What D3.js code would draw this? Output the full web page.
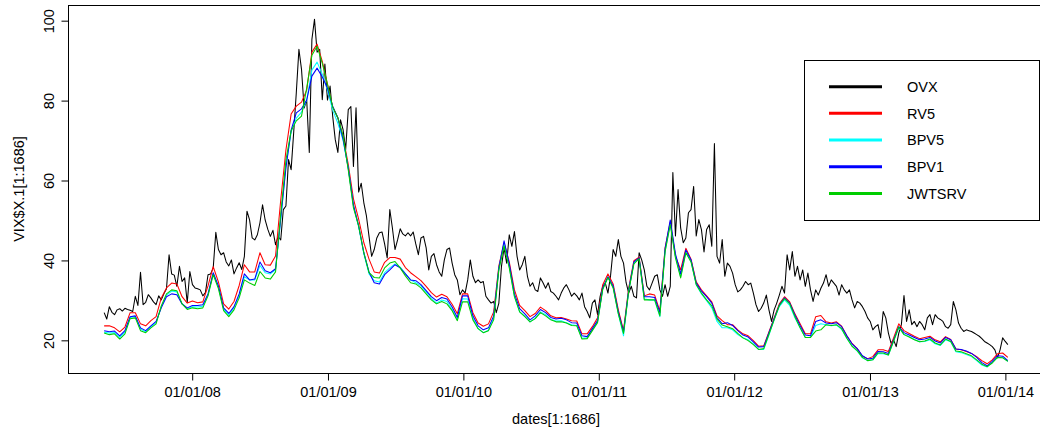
<!DOCTYPE html>
<html>
<head>
<meta charset="utf-8">
<script src="https://cdn.jsdelivr.net/npm/d3@7"></script>
<style>
  body { margin: 0; background: #fff; }
  svg { display: block; }
  text { font-family: "Liberation Sans", Arial, Helvetica, sans-serif; }
</style>
</head>
<body>
<svg id="chart" width="1040" height="432"></svg>
<script>
// Sampling grid: OVX weekly, realized-volatility measures fortnightly
const sampleStart = "2007-05-10";
const ovxStepDays = 7;
const rvStepDays = 14;

// OVX implied volatility index (weekly)
const ovx = [
  26.8, 25.2, 28.3, 26.9, 26.3, 27.5, 27.8, 27.2, 27.9, 27.6,
  27.4, 27.1, 30.9, 28.6, 36.9, 28.8, 29.4, 31.3, 30.5, 29.5,
  28.8, 31.0, 30.0, 31.5, 32.8, 41.3, 36.5, 36.2, 33.4, 38.4,
  34.6, 35.5, 29.3, 37.1, 33.8, 33.0, 32.8, 32.5, 31.0, 31.8,
  36.3, 36.5, 38.0, 46.9, 42.6, 41.3, 41.8, 39.5, 38.5, 40.0,
  36.5, 38.0, 39.3, 37.6, 40.9, 52.2, 50.0, 45.5, 45.0, 46.3,
  49.3, 53.8, 50.0, 47.7, 45.9, 47.4, 43.8, 45.9, 45.0, 52.6,
  53.5, 65.1, 62.6, 72.0, 81.9, 92.7, 87.7, 78.0, 80.0, 66.9,
  95.2, 100.2, 92.0, 92.7, 80.1, 89.0, 80.0, 83.5, 76.0, 70.1,
  66.9, 75.1, 72.6, 67.6, 77.6, 78.4, 63.4, 78.1, 57.0, 59.2,
  54.3, 51.0, 45.9, 40.9, 42.6, 45.5, 46.8, 47.0, 44.0, 40.5,
  52.6, 48.0, 42.6, 45.0, 47.8, 46.5, 46.0, 46.8, 46.0, 47.0,
  44.0, 41.3, 45.5, 45.9, 43.0, 37.5, 40.9, 41.6, 38.8, 37.0,
  35.9, 40.0, 42.6, 43.0, 39.2, 36.3, 35.0, 31.3, 32.5, 31.7,
  35.0, 40.0, 35.9, 34.3, 35.0, 34.3, 34.6, 30.9, 30.0, 29.2,
  29.6, 26.8, 29.2, 38.4, 43.0, 39.2, 46.3, 43.4, 47.1, 40.9,
  37.5, 38.8, 40.9, 35.9, 33.4, 34.3, 32.5, 32.1, 35.5, 34.3,
  32.9, 34.3, 32.1, 31.7, 30.9, 30.0, 31.7, 33.0, 33.8, 32.5,
  30.9, 31.7, 31.0, 30.0, 31.7, 28.3, 27.1, 25.5, 29.2, 30.0,
  26.3, 30.9, 33.4, 34.2, 31.7, 36.0, 42.6, 40.9, 45.1, 40.9,
  39.2, 34.3, 31.7, 33.4, 30.9, 30.5, 41.8, 40.0, 37.5, 33.4,
  32.5, 34.2, 35.9, 36.3, 32.5, 30.9, 33.8, 30.9, 33.4, 61.9,
  46.0, 57.6, 48.0, 44.3, 45.5, 51.8, 52.6, 58.4, 46.0, 50.1,
  47.6, 42.0, 47.6, 48.8, 43.4, 69.1, 40.9, 39.2, 45.1, 35.9,
  39.2, 38.4, 36.7, 33.8, 32.0, 32.5, 33.4, 34.6, 33.8, 34.2,
  31.7, 28.8, 27.1, 27.9, 29.2, 31.2, 27.5, 24.6, 27.5, 29.2,
  31.2, 33.4, 31.7, 41.3, 37.5, 42.1, 35.9, 38.4, 35.0, 37.5,
  33.4, 36.7, 32.5, 29.6, 32.5, 31.2, 32.9, 34.2, 36.3, 33.4,
  35.0, 34.2, 33.4, 31.2, 33.8, 32.5, 31.7, 32.5, 30.0, 28.0,
  29.6, 29.2, 28.3, 27.1, 25.5, 24.6, 22.5, 23.3, 23.8, 20.5,
  27.1, 25.5, 21.7, 19.2, 20.0, 18.3, 21.7, 23.8, 31.1, 24.6,
  27.5, 23.8, 24.6, 23.3, 24.6, 23.8, 22.5, 25.5, 26.3, 23.8,
  26.3, 25.5, 25.1, 24.6, 23.3, 22.9, 23.8, 29.6, 27.5, 24.2,
  22.9, 22.1, 22.5, 22.3, 22.1, 21.7, 21.3, 20.9, 20.3, 19.6,
  19.2, 18.8, 18.3, 17.5, 15.5, 17.5, 20.5, 19.6, 18.8
];

// Realized volatility, 5-minute returns (fortnightly)
const rv5 = [
  23.5, 23.5, 23.0, 22.0, 23.2, 26.8, 26.8, 24.0, 23.5, 24.8,
  25.8, 30.5, 33.0, 34.2, 34.0, 30.8, 29.2, 29.7, 29.3, 29.5,
  33.5, 38.3, 34.5, 29.0, 27.7, 29.6, 33.6, 38.8, 37.0, 37.0,
  41.8, 38.8, 38.7, 41.0, 55.0, 67.5, 76.5, 78.5, 79.5, 82.5,
  92.0, 94.0, 89.7, 84.0, 78.2, 75.5, 70.8, 63.9, 55.3, 50.2,
  44.3, 40.2, 37.0, 36.7, 39.4, 40.6, 40.6, 40.2, 38.1, 36.8,
  35.8, 34.8, 33.4, 31.8, 30.7, 31.4, 30.8, 28.9, 26.5, 31.5,
  31.5, 26.8, 24.2, 23.4, 24.0, 27.0, 38.5, 44.3, 39.5, 32.5,
  28.6, 27.3, 25.8, 26.6, 28.2, 27.3, 26.0, 25.5, 25.6, 25.2,
  24.8, 24.7, 21.5, 21.5, 23.3, 25.5, 33.8, 36.5, 34.0, 27.5,
  22.3, 33.0, 39.8, 40.7, 31.0, 31.5, 31.2, 27.2, 43.0, 49.5,
  41.0, 37.5, 42.9, 40.2, 34.5, 32.5, 31.0, 29.5, 26.0, 24.8,
  23.8, 23.8, 22.5, 21.5, 21.0, 19.8, 18.4, 18.5, 22.0, 25.5,
  29.0, 30.8, 29.5, 26.5, 24.0, 21.5, 21.5, 25.8, 26.1, 24.5,
  24.2, 24.5, 23.4, 21.0, 19.1, 17.8, 15.9, 15.3, 15.8, 17.5,
  17.5, 17.1, 20.5, 24.0, 22.3, 21.6, 20.9, 20.3, 20.6, 20.9,
  20.0, 19.5, 20.8, 20.1, 17.7, 17.5, 17.1, 16.6, 15.8, 14.8,
  14.0, 15.0, 16.5, 16.7, 15.6
];

// Bipower variation, 5-minute returns (fortnightly)
const bpv5 = [
  21.9, 21.7, 21.8, 20.6, 21.9, 25.6, 25.8, 22.7, 22.0, 23.3,
  24.3, 28.3, 31.2, 32.2, 32.0, 29.0, 27.8, 28.3, 28.2, 28.4,
  31.3, 36.6, 33.2, 27.7, 26.2, 28.0, 31.0, 35.8, 35.0, 35.0,
  38.6, 36.8, 36.5, 37.5, 50.0, 63.5, 72.0, 75.5, 77.0, 80.0,
  87.5, 89.5, 86.5, 82.5, 77.5, 74.2, 70.0, 63.0, 53.5, 48.3,
  41.5, 36.5, 34.8, 34.5, 36.8, 38.0, 39.0, 38.2, 36.6, 35.0,
  34.3, 33.5, 32.0, 30.4, 29.2, 30.0, 29.6, 27.6, 25.0, 30.3,
  30.2, 25.5, 22.8, 21.8, 22.4, 25.5, 37.8, 44.0, 38.3, 30.8,
  27.0, 25.9, 24.5, 25.4, 27.0, 26.3, 25.1, 24.7, 24.8, 24.3,
  23.8, 23.6, 20.4, 20.5, 22.5, 24.5, 32.8, 35.7, 33.2, 26.5,
  21.0, 32.3, 39.2, 40.3, 30.2, 30.0, 29.9, 25.8, 42.2, 49.0,
  40.8, 35.8, 42.0, 39.6, 33.8, 31.5, 29.8, 28.0, 24.6, 23.0,
  23.0, 22.5, 21.3, 20.5, 20.0, 19.0, 17.6, 17.6, 21.2, 25.0,
  28.3, 30.0, 28.6, 25.5, 23.0, 20.6, 20.6, 23.6, 24.0, 23.8,
  23.5, 23.7, 22.6, 20.4, 18.5, 17.2, 15.5, 14.8, 15.0, 16.6,
  16.5, 16.2, 19.6, 23.0, 21.4, 20.8, 20.1, 19.5, 19.6, 20.0,
  19.0, 18.6, 20.0, 19.5, 17.0, 16.8, 16.3, 15.8, 14.8, 13.7,
  13.2, 14.3, 15.6, 15.6, 14.6
];

// Bipower variation, 1-minute returns (fortnightly)
const bpv1 = [
  22.3, 22.0, 22.2, 21.0, 22.3, 25.8, 26.0, 23.0, 22.3, 23.5,
  24.6, 28.0, 30.8, 31.5, 31.3, 29.0, 28.0, 28.6, 28.6, 28.8,
  31.5, 36.8, 33.5, 28.0, 26.6, 28.3, 31.5, 36.5, 35.0, 35.2,
  39.5, 37.3, 36.8, 37.8, 50.5, 63.0, 72.5, 76.8, 77.8, 80.0,
  86.0, 88.0, 85.8, 83.0, 78.5, 75.6, 70.2, 63.0, 53.8, 48.5,
  41.8, 37.0, 34.3, 34.0, 36.3, 37.5, 38.8, 38.0, 36.5, 35.0,
  34.8, 33.8, 32.3, 30.8, 29.8, 30.6, 30.2, 28.2, 25.6, 31.0,
  31.0, 26.0, 23.5, 22.5, 23.0, 26.0, 38.0, 44.8, 39.0, 31.5,
  27.8, 26.5, 25.0, 26.0, 27.6, 26.8, 25.6, 25.2, 25.4, 25.0,
  24.3, 24.2, 21.0, 20.8, 22.8, 24.8, 33.0, 35.8, 33.5, 27.0,
  22.0, 32.5, 39.5, 40.5, 30.8, 30.8, 30.6, 26.8, 42.8, 50.0,
  41.5, 36.5, 42.5, 40.0, 34.2, 32.2, 30.8, 29.2, 25.6, 24.0,
  24.3, 23.6, 22.3, 21.2, 20.7, 19.5, 18.2, 18.3, 21.8, 25.3,
  28.7, 30.5, 29.2, 26.2, 23.6, 21.2, 21.0, 24.6, 25.0, 24.2,
  24.0, 24.3, 23.3, 21.0, 19.0, 17.8, 16.0, 15.2, 15.4, 17.1,
  17.0, 16.6, 20.0, 23.3, 21.8, 21.2, 20.6, 20.0, 20.2, 20.6,
  19.7, 19.2, 20.6, 20.0, 17.7, 17.6, 17.2, 16.6, 15.6, 14.3,
  13.5, 14.6, 16.0, 15.9, 14.8
];

// Jump-wavelet two-scale realized volatility (fortnightly)
const jwtsrv = [
  21.7, 21.3, 21.5, 20.2, 21.5, 25.3, 25.5, 22.3, 21.8, 23.0,
  24.0, 28.5, 31.5, 32.5, 32.3, 29.0, 27.6, 28.0, 27.8, 28.0,
  31.0, 36.3, 32.8, 27.3, 25.8, 27.5, 30.5, 35.0, 34.2, 33.6,
  37.1, 35.5, 35.2, 37.0, 51.5, 65.0, 72.3, 74.8, 76.0, 83.0,
  91.2, 93.5, 89.2, 84.0, 78.3, 75.6, 71.1, 62.5, 53.0, 48.5,
  41.8, 36.8, 35.6, 35.5, 38.0, 39.2, 39.6, 38.0, 36.0, 34.3,
  34.0, 33.0, 31.5, 30.0, 29.0, 29.6, 29.0, 27.3, 24.8, 29.5,
  29.5, 25.0, 22.8, 21.8, 22.3, 25.0, 37.5, 43.5, 38.0, 30.8,
  27.0, 25.8, 24.5, 25.3, 26.8, 26.0, 25.0, 24.5, 24.5, 24.2,
  23.6, 23.5, 20.2, 20.3, 22.3, 24.3, 32.6, 35.6, 33.0, 26.5,
  21.6, 32.2, 39.0, 40.3, 30.0, 30.0, 30.0, 26.0, 42.0, 48.8,
  40.5, 35.5, 41.8, 39.5, 33.8, 31.7, 30.0, 28.5, 25.2, 23.7,
  23.3, 22.8, 21.6, 20.5, 19.8, 18.8, 17.6, 17.8, 21.4, 25.0,
  28.6, 30.3, 29.0, 25.8, 23.0, 20.6, 20.6, 22.2, 22.5, 23.8,
  23.6, 23.8, 22.8, 20.4, 18.4, 17.3, 15.6, 14.8, 15.0, 16.7,
  16.7, 16.2, 19.7, 23.2, 21.3, 20.7, 20.0, 19.5, 19.7, 20.2,
  19.2, 18.7, 20.2, 19.6, 17.2, 17.0, 16.5, 16.0, 15.0, 13.9,
  13.3, 14.2, 15.6, 15.5, 14.6
];

const seriesNames = ["OVX", "RV5", "BPV5", "BPV1", "JWTSRV"];
const seriesColors = ["#000000", "#ff0000", "#00ffff", "#0000ff", "#00cd00"];

const xTickDates = ["2008-01-01", "2009-01-01", "2010-01-01", "2011-01-01",
                    "2012-01-01", "2013-01-01", "2014-01-01"];
const xTickLabels = ["01/01/08", "01/01/09", "01/01/10", "01/01/11",
                     "01/01/12", "01/01/13", "01/01/14"];
const yTicks = [20, 40, 60, 80, 100];
const yDomain = [11.7, 103.8];

const xTitle = "dates[1:1686]";
const yTitle = "VIX$X.1[1:1686]";

// ---------------------------------------------------------------------
const parse = d3.utcParse("%Y-%m-%d");
const t0 = parse(sampleStart);

function toPoints(values, step) {
  return values.map((v, i) => ({ date: d3.utcDay.offset(t0, i * step), value: v }));
}

const series = [
  toPoints(ovx, ovxStepDays),
  toPoints(rv5, rvStepDays),
  toPoints(bpv5, rvStepDays),
  toPoints(bpv1, rvStepDays),
  toPoints(jwtsrv, rvStepDays)
];

const plot = { left: 68, top: 5, right: 1044, bottom: 373 };
const fontSize = 14.5;

const svg = d3.select("#chart");

// Date extent padded by 4% on each side
const allDates = series.flat().map(d => d.date);
const [dMin, dMax] = d3.extent(allDates);
const pad = (dMax - dMin) * 0.04;
const x = d3.scaleUtc()
  .domain([new Date(+dMin - pad), new Date(+dMax + pad)])
  .range([plot.left, plot.right]);

const y = d3.scaleLinear().domain(yDomain).range([plot.bottom, plot.top]);

// Clip drawing area
svg.append("defs").append("clipPath").attr("id", "plotclip")
  .append("rect")
  .attr("x", plot.left).attr("y", plot.top)
  .attr("width", plot.right - plot.left).attr("height", plot.bottom - plot.top);

const line = d3.line().x(d => x(d.date)).y(d => y(d.value));

const lines = svg.append("g").attr("clip-path", "url(#plotclip)");
series.forEach((s, k) => {
  lines.append("path")
    .datum(s)
    .attr("fill", "none")
    .attr("stroke", seriesColors[k])
    .attr("stroke-width", 1.05)
    .attr("stroke-linejoin", "round")
    .attr("d", line);
});

// Plot frame
svg.append("rect")
  .attr("x", plot.left + 0.5).attr("y", plot.top + 0.5)
  .attr("width", plot.right - plot.left).attr("height", plot.bottom - plot.top)
  .attr("fill", "none").attr("stroke", "#000").attr("stroke-width", 1);

// X axis
const xAxis = d3.axisBottom(x)
  .tickValues(xTickDates.map(parse))
  .tickFormat((d, i) => xTickLabels[i])
  .tickSize(7)
  .tickSizeOuter(0)
  .tickPadding(6.5);

const gx = svg.append("g")
  .attr("transform", `translate(0.5,${plot.bottom + 0.5})`)
  .call(xAxis);
gx.select(".domain").remove();
gx.selectAll("line").attr("stroke", "#000");
gx.selectAll("text")
  .attr("fill", "#000")
  .style("font-size", fontSize + "px")
  .style("font-family", '"Liberation Sans", Arial, Helvetica, sans-serif');

// Y axis, labels parallel to the axis
const yAxis = d3.axisLeft(y).tickValues(yTicks).tickSize(7).tickSizeOuter(0);
const gy = svg.append("g")
  .attr("transform", `translate(${plot.left + 0.5},0.5)`)
  .call(yAxis);
gy.select(".domain").remove();
gy.selectAll("line").attr("stroke", "#000");
gy.selectAll("text")
  .attr("x", null).attr("dy", null)
  .attr("transform", "translate(-15,0) rotate(-90)")
  .attr("text-anchor", "middle")
  .attr("fill", "#000")
  .style("font-size", fontSize + "px")
  .style("font-family", '"Liberation Sans", Arial, Helvetica, sans-serif');

// Axis titles
svg.append("text")
  .attr("x", (plot.left + plot.right) / 2)
  .attr("y", 424)
  .attr("text-anchor", "middle")
  .style("font-size", fontSize + "px")
  .text(xTitle);

svg.append("text")
  .attr("transform", `translate(24,${(plot.top + plot.bottom) / 2}) rotate(-90)`)
  .attr("text-anchor", "middle")
  .style("font-size", fontSize + "px")
  .text(yTitle);

// Legend
const legend = { x: 804, y: 60, w: 235, h: 160, firstRow: 86.7, rowGap: 26.67 };
const lg = svg.append("g");
lg.append("rect")
  .attr("x", legend.x + 0.5).attr("y", legend.y + 0.5)
  .attr("width", legend.w).attr("height", legend.h)
  .attr("fill", "#fff").attr("stroke", "#000").attr("stroke-width", 1);

seriesNames.forEach((name, k) => {
  const ry = legend.firstRow + k * legend.rowGap;
  lg.append("line")
    .attr("x1", 829).attr("x2", 882)
    .attr("y1", ry).attr("y2", ry)
    .attr("stroke", seriesColors[k])
    .attr("stroke-width", 3);
  lg.append("text")
    .attr("x", 907).attr("y", ry)
    .attr("dy", "0.36em")
    .style("font-size", fontSize + "px")
    .text(name);
});
</script>
</body>
</html>
